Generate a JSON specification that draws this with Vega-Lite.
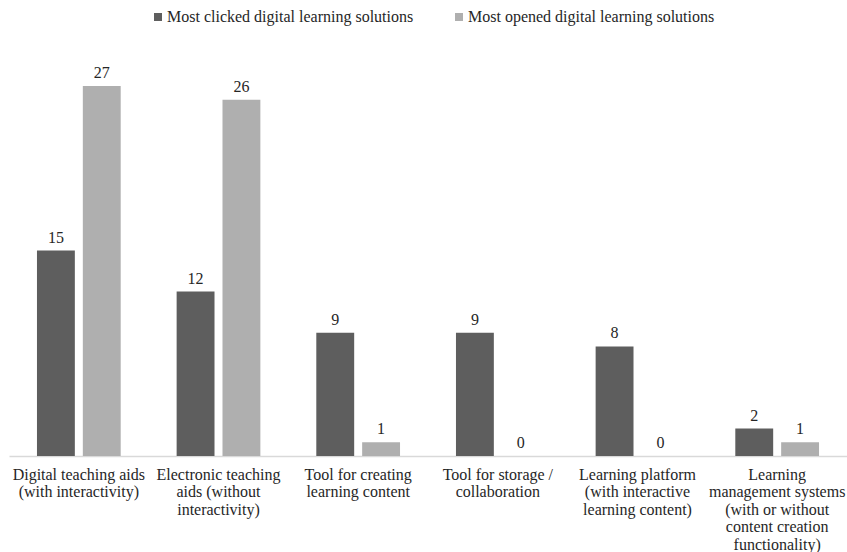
{
  "$schema": "https://vega.github.io/schema/vega-lite/v6.json",
  "width": 838,
  "height": 411,
  "autosize": {"type": "none"},
  "padding": {"left": 9, "top": 45, "right": 0, "bottom": 96},
  "background": "white",
  "config": {
    "font": "Liberation Serif",
    "view": {"stroke": null}
  },
  "data": {
    "values": [
      {"category": "Digital teaching aids|(with interactivity)", "series": "Most clicked digital learning solutions", "value": 15},
      {"category": "Digital teaching aids|(with interactivity)", "series": "Most opened digital learning solutions", "value": 27},
      {"category": "Electronic teaching|aids (without|interactivity)", "series": "Most clicked digital learning solutions", "value": 12},
      {"category": "Electronic teaching|aids (without|interactivity)", "series": "Most opened digital learning solutions", "value": 26},
      {"category": "Tool for creating|learning content", "series": "Most clicked digital learning solutions", "value": 9},
      {"category": "Tool for creating|learning content", "series": "Most opened digital learning solutions", "value": 1},
      {"category": "Tool for storage /|collaboration", "series": "Most clicked digital learning solutions", "value": 9},
      {"category": "Tool for storage /|collaboration", "series": "Most opened digital learning solutions", "value": 0},
      {"category": "Learning platform|(with interactive|learning content)", "series": "Most clicked digital learning solutions", "value": 8},
      {"category": "Learning platform|(with interactive|learning content)", "series": "Most opened digital learning solutions", "value": 0},
      {"category": "Learning|management systems|(with or without|content creation|functionality)", "series": "Most clicked digital learning solutions", "value": 2},
      {"category": "Learning|management systems|(with or without|content creation|functionality)", "series": "Most opened digital learning solutions", "value": 1}
    ]
  },
  "encoding": {
    "x": {
      "field": "category",
      "type": "nominal",
      "sort": null,
      "scale": {"paddingInner": 0, "paddingOuter": 0},
      "axis": {
        "title": null,
        "labelAngle": 0,
        "labelExpr": "split(datum.label, '|')",
        "labelFontSize": 16,
        "labelColor": "#262626",
        "labelLineHeight": 17.5,
        "labelPadding": 10,
        "labelBaseline": "top",
        "ticks": false,
        "domainColor": "#d9d9d9",
        "domainWidth": 1.5,
        "labelLimit": 0
      }
    },
    "xOffset": {
      "field": "series",
      "type": "nominal",
      "scale": {"paddingInner": 0.174, "paddingOuter": 0.61}
    },
    "y": {
      "field": "value",
      "type": "quantitative",
      "scale": {"domain": [0, 30]},
      "axis": null
    }
  },
  "layer": [
    {
      "mark": {"type": "bar"},
      "encoding": {
        "color": {
          "field": "series",
          "type": "nominal",
          "scale": {"range": ["#5e5e5e", "#afafaf"]},
          "legend": {
            "title": null,
            "orient": "none",
            "legendX": 141,
            "legendY": -36,
            "direction": "horizontal",
            "symbolType": "square",
            "symbolSize": 64,
            "symbolStrokeWidth": 0,
            "labelFontSize": 16,
            "labelColor": "#262626",
            "labelOffset": 1,
            "columnPadding": 37,
            "labelLimit": 0
          }
        }
      }
    },
    {
      "mark": {"type": "text", "fontSize": 16, "color": "#262626", "baseline": "alphabetic", "dy": -8},
      "encoding": {
        "text": {"field": "value", "type": "quantitative"}
      }
    }
  ]
}
